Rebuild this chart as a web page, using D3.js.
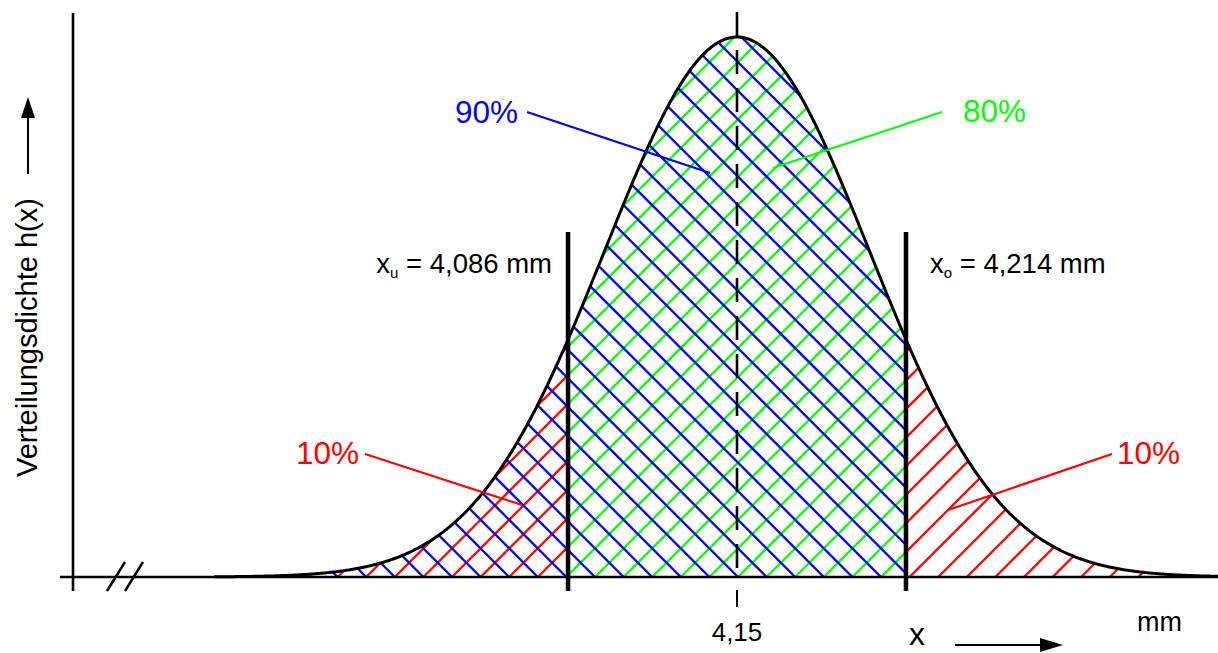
<!DOCTYPE html>
<html><head><meta charset="utf-8">
<script src="https://cdn.jsdelivr.net/npm/d3@7"></script>
<style>html,body{margin:0;padding:0;background:#fff;overflow:hidden}</style>
</head><body><svg id="c" width="1218" height="653"></svg>
<script>
// ---- data ----
const meanValue = [4.15];
const limitValues = [4.086, 4.214];          // x_u, x_o
const limitNames = ["u", "o"];
const limitTexts = [" = 4,086 mm", " = 4,214 mm"];
const sigmaValue = [0.04994];                // from 80 % between x_u and x_o
const shareLabels = ["10%", "90%", "80%", "10%"];
const shareColors = ["#ff0000", "#0000ff", "#00ff00", "#ff0000"];
const tickLabels = ["4,15"];
const xDomain = [3.952, 4.35];
const axisTitles = ["Verteilungsdichte h(x)", "x", "mm"];

// ---- setup ----
const W = 1218, H = 653;
const svg = d3.select("#c");
const font = "'Liberation Sans', Arial, sans-serif";
const mu = meanValue[0], sd = sigmaValue[0];
const pdf = x => Math.exp(-0.5 * ((x - mu) / sd) ** 2) / (sd * Math.sqrt(2 * Math.PI));
const peak = pdf(mu);

const x = d3.scaleLinear().domain([3.95, 4.35]).range([209, 1265]);
const y = d3.scaleLinear().domain([0, peak]).range([577, 37]);
const base = y(0);

const samples = d3.range(xDomain[0], xDomain[1] + 1e-9, 0.0005);
const pts = samples.map(v => ({x: v, d: pdf(v)}));
const area = d3.area().x(d => x(d.x)).y0(base).y1(d => y(d.d));
const line = d3.line().x(d => x(d.x)).y(d => y(d.d));

const [xu, xo] = limitValues;
const defs = svg.append("defs");
function clip(id, lo, hi) {
  const sub = pts.filter(p => p.x >= lo && p.x <= hi);
  sub.unshift({x: lo, d: pdf(lo)}); sub.push({x: hi, d: pdf(hi)});
  defs.append("clipPath").attr("id", id).append("path").attr("d", area(sub));
}
clip("cBlue", xDomain[0], xo);
clip("cGreen", xu, xo);
clip("cRedL", xDomain[0], xu);
clip("cRedR", xo, xDomain[1]);

// hatch lines anchored at baseline positions
const step = 28.6, ext = 600;
const x0 = x(mu) + 1;
const ks = d3.range(-30, 30);
function hatch(clipId, color, dir) {
  svg.append("g").attr("clip-path", `url(#${clipId})`)
    .selectAll("line").data(ks).join("line")
    .attr("x1", k => x0 + k * step).attr("y1", base)
    .attr("x2", k => x0 + k * step + dir * ext).attr("y2", base - ext)
    .attr("stroke", color).attr("stroke-width", 2.3);
}
hatch("cGreen", "#00ff00", 1);
hatch("cRedL", "#ff0000", 1);
hatch("cRedR", "#ff0000", 1);
hatch("cBlue", "#0000ff", -1);

// center line
svg.append("line").attr("x1", x(mu)).attr("x2", x(mu)).attr("y1", 12).attr("y2", y(peak))
  .attr("stroke", "#000").attr("stroke-width", 2.6);
svg.append("line").attr("x1", x(mu)).attr("x2", x(mu)).attr("y1", y(peak) + 13).attr("y2", base)
  .attr("stroke", "#000").attr("stroke-width", 2.6).attr("stroke-dasharray", "24,14");
// tick below
svg.append("line").attr("x1", x(mu)).attr("x2", x(mu)).attr("y1", 590).attr("y2", 607)
  .attr("stroke", "#000").attr("stroke-width", 2);

// curve
svg.append("path").attr("d", line(pts)).attr("fill", "none").attr("stroke", "#000").attr("stroke-width", 3);

// axes
svg.append("line").attr("x1", 60).attr("x2", W).attr("y1", base).attr("y2", base)
  .attr("stroke", "#000").attr("stroke-width", 2.6);
svg.append("line").attr("x1", 73).attr("x2", 73).attr("y1", 13).attr("y2", 591)
  .attr("stroke", "#000").attr("stroke-width", 2.6);
[107, 125].forEach(s => svg.append("line").attr("x1", s).attr("y1", 591).attr("x2", s + 18).attr("y2", 562)
  .attr("stroke", "#000").attr("stroke-width", 2.4));

// limit lines
limitValues.forEach(v => svg.append("line").attr("x1", x(v)).attr("x2", x(v)).attr("y1", 232).attr("y2", 591)
  .attr("stroke", "#000").attr("stroke-width", 4.5));

// limit labels
limitValues.forEach((v, i) => {
  const t = svg.append("text").attr("font-family", font).attr("font-size", 27.5).attr("fill", "#000")
    .attr("y", 273);
  if (i === 0) t.attr("x", x(v) - 16).attr("text-anchor", "end");
  else t.attr("x", x(v) + 24).attr("text-anchor", "start");
  t.append("tspan").text("x");
  t.append("tspan").attr("font-size", 15).attr("dy", 5).text(limitNames[i]);
  t.append("tspan").attr("dy", -5).text(limitTexts[i]);
});

// tick label
svg.append("text").attr("x", x(mu)).attr("y", 641).attr("text-anchor", "middle")
  .attr("font-family", font).attr("font-size", 26).text(tickLabels[0]);

// share annotations
const ann = [
  {tx: 296, ty: 464, l: [[365, 454], [522, 505]]},
  {tx: 455, ty: 123, l: [[527, 112], [710, 173]]},
  {tx: 963, ty: 122, l: [[942, 112], [773, 168]]},
  {tx: 1117, ty: 464, l: [[1112, 454], [948, 510]]}
];
ann.forEach((a, i) => {
  svg.append("text").attr("x", a.tx).attr("y", a.ty).attr("font-family", font).attr("font-size", 31.5)
    .attr("fill", shareColors[i]).text(shareLabels[i]);
  svg.append("line").attr("x1", a.l[0][0]).attr("y1", a.l[0][1]).attr("x2", a.l[1][0]).attr("y2", a.l[1][1])
    .attr("stroke", shareColors[i]).attr("stroke-width", 2.2);
});

// y-axis title and arrow
svg.append("text").attr("transform", "translate(37,477) rotate(-90)")
  .attr("font-family", font).attr("font-size", 29).text(axisTitles[0]);
svg.append("line").attr("x1", 28).attr("x2", 28).attr("y1", 174).attr("y2", 112)
  .attr("stroke", "#000").attr("stroke-width", 2);
svg.append("path").attr("d", "M28,97 L35,118 L21,118 Z").attr("fill", "#000");

// x title, arrow, unit
svg.append("text").attr("x", 909).attr("y", 645).attr("font-family", font).attr("font-size", 32).text(axisTitles[1]);
svg.append("line").attr("x1", 955).attr("x2", 1045).attr("y1", 645).attr("y2", 645)
  .attr("stroke", "#000").attr("stroke-width", 2);
svg.append("path").attr("d", "M1063,645 L1040,638 L1040,652 Z").attr("fill", "#000");
svg.append("text").attr("x", 1137).attr("y", 631).attr("font-family", font).attr("font-size", 27).text(axisTitles[2]);
</script></body></html>
